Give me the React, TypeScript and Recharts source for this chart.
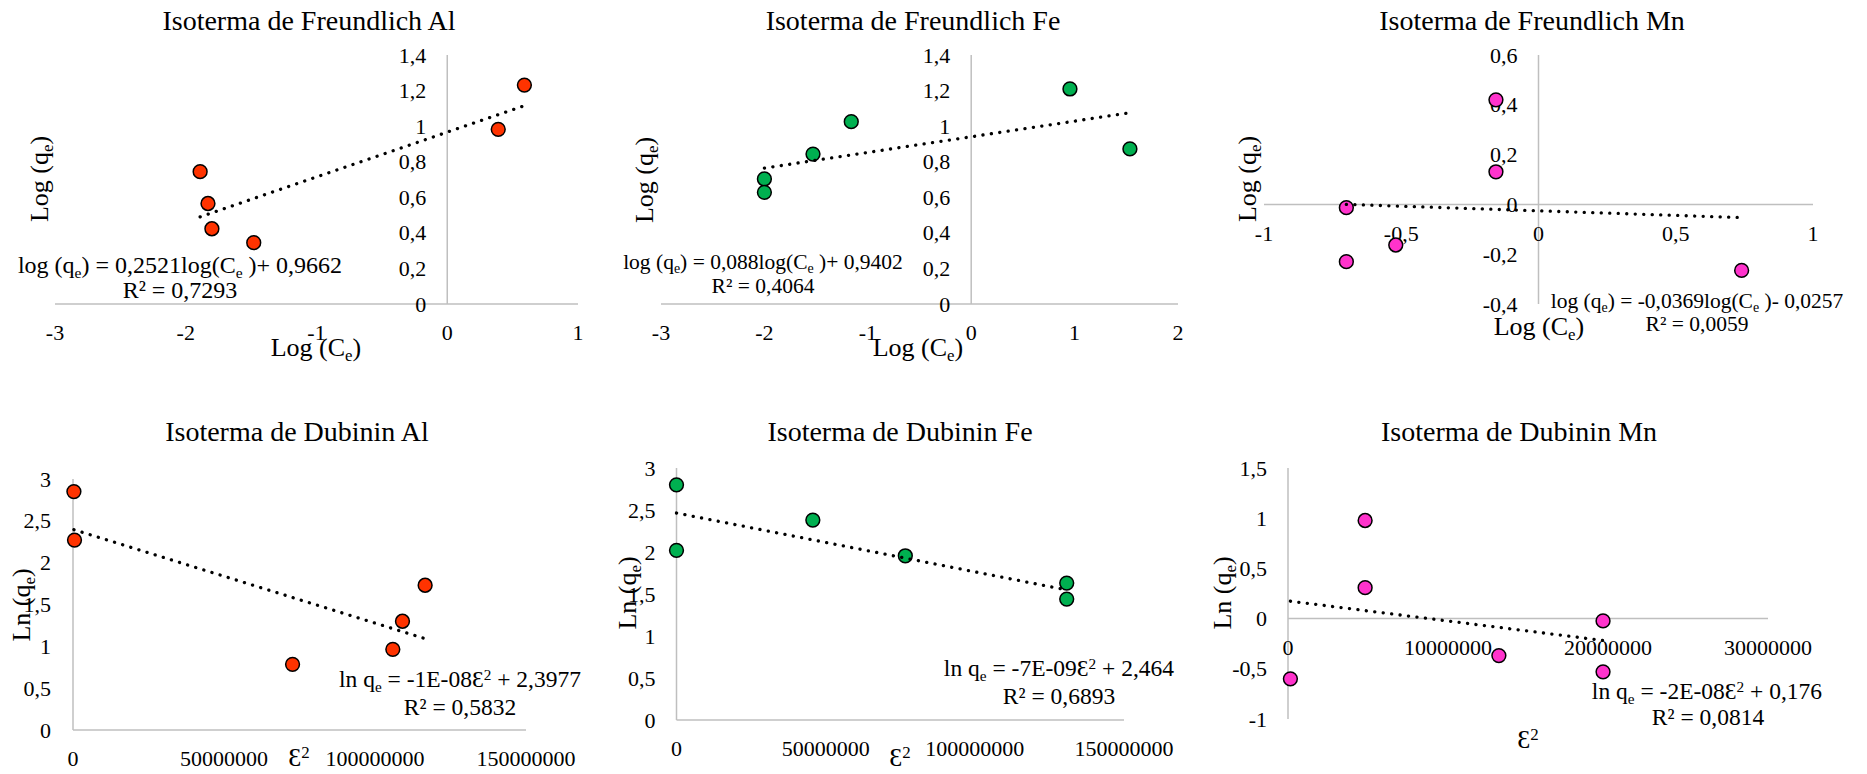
import React from 'react';
import { ScatterChart, Scatter, XAxis, YAxis, ReferenceLine, ReferenceDot } from 'recharts';

// ---- Freundlich isotherm: log(Ce) vs log(qe) ----
const alLogCe = [-1.89, -1.83, -1.8, -1.48, 0.39, 0.59];
const alLogQe = [0.744, 0.565, 0.423, 0.345, 0.982, 1.231];
const alFreundlichFit = [0.2521, 0.9662];

const feLogCe = [-2.0, -2.0, -1.53, -1.16, 0.955, 1.535];
const feLogQe = [0.703, 0.628, 0.843, 1.025, 1.209, 0.872];
const feFreundlichFit = [0.088, 0.9402];

const mnLogCe = [-0.7, -0.7, -0.52, -0.155, -0.155, 0.74];
const mnLogQe = [-0.013, -0.23, -0.163, 0.42, 0.131, -0.265];
const mnFreundlichFit = [-0.0369, -0.0257];

// ---- Dubinin isotherm: ε² vs ln(qe) ----
const alEps2 = [300000, 500000, 72700000, 105900000, 109100000, 116600000];
const alLnQe = [2.85, 2.27, 0.785, 0.964, 1.3, 1.73];
const alDubininFit = [-1.12e-8, 2.3977];

const feEps2 = [0, 0, 45700000, 76700000, 130800000, 130800000];
const feLnQe = [2.8, 2.02, 2.38, 1.955, 1.63, 1.44];
const feDubininFit = [-7e-9, 2.464];

const mnEps2 = [150000, 4820000, 4820000, 13180000, 19690000, 19690000];
const mnLnQe = [-0.6, 0.977, 0.308, -0.368, -0.023, -0.53];
const mnDubininFit = [-2e-8, 0.176];

// ---- tick values ----
const freundlichAlXTicks = [-3, -2, -1, 0, 1];
const freundlichFeXTicks = [-3, -2, -1, 0, 1, 2];
const freundlichAlFeYTicks = [0, 0.2, 0.4, 0.6, 0.8, 1, 1.2, 1.4];
const freundlichMnXTicks = [-1, -0.5, 0, 0.5, 1];
const freundlichMnYTicks = [-0.4, -0.2, 0, 0.2, 0.4, 0.6];
const dubininAlFeXTicks = [0, 50000000, 100000000, 150000000];
const dubininAlFeYTicks = [0, 0.5, 1, 1.5, 2, 2.5, 3];
const dubininMnXTicks = [0, 10000000, 20000000, 30000000];
const dubininMnYTicks = [-1, -0.5, 0, 0.5, 1, 1.5];

const AL_COLOR = '#FF3300';
const FE_COLOR = '#00B050';
const MN_COLOR = '#FF33CC';
const AXIS_COLOR = '#BFBFBF';
const FONT = "'Liberation Serif', 'Times New Roman', Times, serif";
const TICK_SIZE = 22;

const fmt = (v: number) => String(v).replace('.', ',');

type Pt = { x: number; y: number };
const zip = (xs: number[], ys: number[]): Pt[] => xs.map((x, i) => ({ x, y: ys[i] }));
const trendPoints = (xs: number[], fit: number[]): Pt[] => {
  const lo = Math.min(...xs);
  const hi = Math.max(...xs);
  return [
    { x: lo, y: fit[0] * lo + fit[1] },
    { x: hi, y: fit[0] * hi + fit[1] },
  ];
};

interface PanelProps {
  left: number;
  top: number;
  width: number;
  height: number;
  margin: { top: number; right: number; bottom: number; left: number };
  xDomain: [number, number];
  yDomain: [number, number];
  xTicks: number[];
  yTicks: number[];
  xs: number[];
  ys: number[];
  fit: number[];
  color: string;
  yGap?: number;
  xGap?: number;
}

const tickStyle = { fontFamily: FONT, fontSize: TICK_SIZE };

function Panel(p: PanelProps) {
  const points = zip(p.xs, p.ys);
  const line = trendPoints(p.xs, p.fit);
  const yGap = p.yGap ?? 21;
  const xGap = p.xGap ?? 28;
  return (
    <div style={{ position: 'absolute', left: p.left, top: p.top }}>
      <ScatterChart width={p.width} height={p.height} margin={p.margin}>
        <XAxis type="number" dataKey="x" domain={p.xDomain} hide />
        <YAxis type="number" dataKey="y" domain={p.yDomain} hide />
        <ReferenceLine x={0} stroke={AXIS_COLOR} strokeWidth={1.5} ifOverflow="visible" />
        <ReferenceLine y={0} stroke={AXIS_COLOR} strokeWidth={1.5} ifOverflow="visible" />
        {p.yTicks.map((v) => (
          <ReferenceDot
            key={'y' + v}
            x={0}
            y={v}
            r={0}
            ifOverflow="visible"
            shape={(s: any) => (
              <text
                x={s.cx - yGap}
                y={s.cy}
                textAnchor="end"
                dominantBaseline="central"
                style={tickStyle}
                fill="#000"
              >
                {fmt(v)}
              </text>
            )}
          />
        ))}
        {p.xTicks.map((v) => (
          <ReferenceDot
            key={'x' + v}
            x={v}
            y={0}
            r={0}
            ifOverflow="visible"
            shape={(s: any) => (
              <text
                x={s.cx}
                y={s.cy + xGap}
                textAnchor="middle"
                dominantBaseline="central"
                style={tickStyle}
                fill="#000"
              >
                {fmt(v)}
              </text>
            )}
          />
        ))}
        <Scatter
          data={points}
          fill={p.color}
          isAnimationActive={false}
          shape={(s: any) => (
            <circle cx={s.cx} cy={s.cy} r={6.9} fill={p.color} stroke="#000" strokeWidth={1.5} />
          )}
        />
        <Scatter
          data={line}
          fill="#000"
          isAnimationActive={false}
          line={{ stroke: '#000', strokeWidth: 3.3, strokeDasharray: '0.1 8.4', strokeLinecap: 'round' }}
          shape={() => <g />}
        />
      </ScatterChart>
    </div>
  );
}

function Txt({ x, y, size, rotate, children }: { x: number; y: number; size: number; rotate?: boolean; children: React.ReactNode }) {
  return (
    <div
      style={{
        position: 'absolute',
        left: x,
        top: y,
        transform: `translate(-50%, -50%)${rotate ? ' rotate(-90deg)' : ''}`,
        fontSize: size,
        lineHeight: 1,
        whiteSpace: 'pre',
        fontFamily: FONT,
        color: '#000',
      }}
    >
      {children}
    </div>
  );
}

const Sub = ({ c }: { c: string }) => (
  <span style={{ fontSize: '0.65em', position: 'relative', top: '0.3em' }}>{c}</span>
);
const Sup = ({ c }: { c: string }) => (
  <span style={{ fontSize: '0.65em', position: 'relative', top: '-0.45em' }}>{c}</span>
);

const TITLE = 28;
const AXIS_LABEL = 26;

export default function App() {
  return (
    <div
      style={{
        position: 'absolute',
        left: 0,
        top: 0,
        width: 1867,
        height: 774,
        overflow: 'hidden',
        background: '#fff',
        fontFamily: FONT,
      }}
    >
      <Panel
        left={0} top={0} width={620} height={380}
        margin={{ top: 55, right: 42, bottom: 76, left: 55 }}
        xDomain={[-3, 1]} yDomain={[0, 1.4]}
        xTicks={freundlichAlXTicks} yTicks={freundlichAlFeYTicks}
        xs={alLogCe} ys={alLogQe} fit={alFreundlichFit} color={AL_COLOR}
      />
      <Panel
        left={620} top={0} width={620} height={380}
        margin={{ top: 55, right: 62, bottom: 76, left: 41 }}
        xDomain={[-3, 2]} yDomain={[0, 1.4]}
        xTicks={freundlichFeXTicks} yTicks={freundlichAlFeYTicks}
        xs={feLogCe} ys={feLogQe} fit={feFreundlichFit} color={FE_COLOR}
      />
      <Panel
        left={1200} top={0} width={667} height={380}
        margin={{ top: 55, right: 54, bottom: 76, left: 64 }}
        xDomain={[-1, 1]} yDomain={[-0.4, 0.6]}
        xTicks={freundlichMnXTicks} yTicks={freundlichMnYTicks}
        xs={mnLogCe} ys={mnLogQe} fit={mnFreundlichFit} color={MN_COLOR} xGap={29}
      />
      <Panel
        left={0} top={380} width={620} height={394}
        margin={{ top: 99, right: 94, bottom: 44, left: 73 }}
        xDomain={[0, 150000000]} yDomain={[0, 3]}
        xTicks={dubininAlFeXTicks} yTicks={dubininAlFeYTicks}
        xs={alEps2} ys={alLnQe} fit={alDubininFit} color={AL_COLOR} yGap={22}
      />
      <Panel
        left={600} top={380} width={640} height={394}
        margin={{ top: 88, right: 116, bottom: 54, left: 76.5 }}
        xDomain={[0, 150000000]} yDomain={[0, 3]}
        xTicks={dubininAlFeXTicks} yTicks={dubininAlFeYTicks}
        xs={feEps2} ys={feLnQe} fit={feDubininFit} color={FE_COLOR} yGap={21}
      />
      <Panel
        left={1190} top={380} width={677} height={394}
        margin={{ top: 88, right: 99, bottom: 55, left: 98 }}
        xDomain={[0, 30000000]} yDomain={[-1, 1.5]}
        xTicks={dubininMnXTicks} yTicks={dubininMnYTicks}
        xs={mnEps2} ys={mnLnQe} fit={mnDubininFit} color={MN_COLOR} xGap={29}
      />

      {/* Freundlich Al */}
      <Txt x={309} y={21} size={TITLE}>Isoterma de Freundlich Al</Txt>
      <Txt x={40} y={179} size={AXIS_LABEL} rotate>Log (q<Sub c="e" />)</Txt>
      <Txt x={316} y={348} size={AXIS_LABEL}>Log (C<Sub c="e" />)</Txt>
      <Txt x={180} y={265} size={24}>log (q<Sub c="e" />) = 0,2521log(C<Sub c="e" /> )+ 0,9662</Txt>
      <Txt x={180} y={290} size={24}>R² = 0,7293</Txt>

      {/* Freundlich Fe */}
      <Txt x={913} y={21} size={TITLE}>Isoterma de Freundlich Fe</Txt>
      <Txt x={645} y={180} size={AXIS_LABEL} rotate>Log (q<Sub c="e" />)</Txt>
      <Txt x={918} y={348} size={AXIS_LABEL}>Log (C<Sub c="e" />)</Txt>
      <Txt x={763} y={263} size={21.5}>log (q<Sub c="e" />) = 0,088log(C<Sub c="e" /> )+ 0,9402</Txt>
      <Txt x={763} y={287} size={21.5}>R² = 0,4064</Txt>

      {/* Freundlich Mn */}
      <Txt x={1532} y={21} size={TITLE}>Isoterma de Freundlich Mn</Txt>
      <Txt x={1248} y={179} size={AXIS_LABEL} rotate>Log (q<Sub c="e" />)</Txt>
      <Txt x={1539} y={327} size={AXIS_LABEL}>Log (C<Sub c="e" />)</Txt>
      <Txt x={1697} y={302} size={21.5}>log (q<Sub c="e" />) = -0,0369log(C<Sub c="e" /> )- 0,0257</Txt>
      <Txt x={1697} y={325} size={21.5}>R² = 0,0059</Txt>

      {/* Dubinin Al */}
      <Txt x={297} y={432} size={TITLE}>Isoterma de Dubinin Al</Txt>
      <Txt x={22} y={605} size={AXIS_LABEL} rotate>Ln (q<Sub c="e" />)</Txt>
      <Txt x={299} y={758} size={AXIS_LABEL}>Ɛ<Sup c="2" /></Txt>
      <Txt x={460} y={680} size={23.5}>ln q<Sub c="e" /> = -1E-08Ɛ<Sup c="2" /> + 2,3977</Txt>
      <Txt x={460} y={708} size={23.5}>R² = 0,5832</Txt>

      {/* Dubinin Fe */}
      <Txt x={900} y={432} size={TITLE}>Isoterma de Dubinin Fe</Txt>
      <Txt x={628} y={593} size={AXIS_LABEL} rotate>Ln (q<Sub c="e" />)</Txt>
      <Txt x={900} y={758} size={AXIS_LABEL}>Ɛ<Sup c="2" /></Txt>
      <Txt x={1059} y={669} size={23.5}>ln q<Sub c="e" /> = -7E-09Ɛ<Sup c="2" /> + 2,464</Txt>
      <Txt x={1059} y={697} size={23.5}>R² = 0,6893</Txt>

      {/* Dubinin Mn */}
      <Txt x={1519} y={432} size={TITLE}>Isoterma de Dubinin Mn</Txt>
      <Txt x={1223} y={593} size={AXIS_LABEL} rotate>Ln (q<Sub c="e" />)</Txt>
      <Txt x={1528} y={740} size={AXIS_LABEL}>Ɛ<Sup c="2" /></Txt>
      <Txt x={1707} y={692} size={23.5}>ln q<Sub c="e" /> = -2E-08Ɛ<Sup c="2" /> + 0,176</Txt>
      <Txt x={1708} y={718} size={23.5}>R² = 0,0814</Txt>
    </div>
  );
}
